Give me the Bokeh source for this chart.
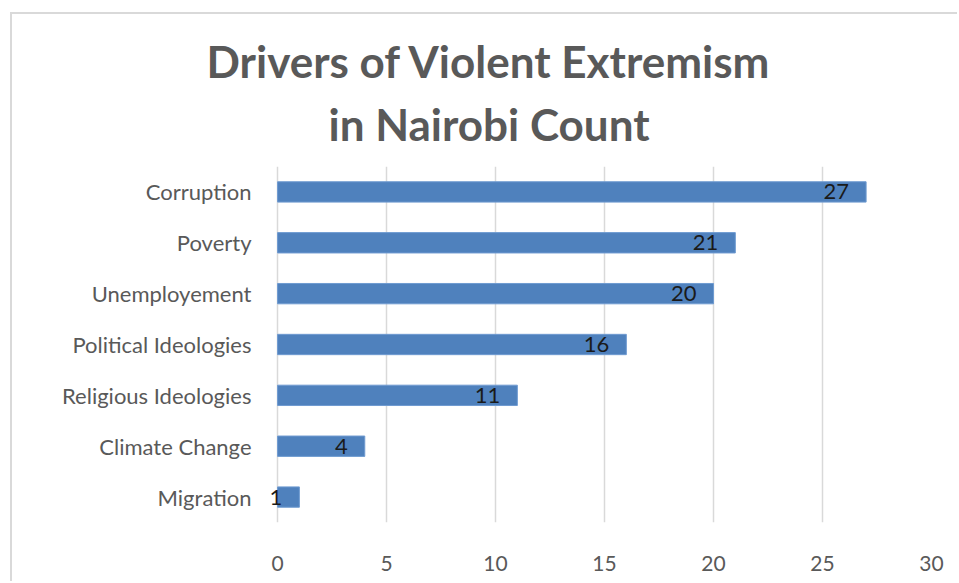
from bokeh.plotting import figure
from bokeh.models import FactorRange, Title, ColumnDataSource, FixedTicker
from bokeh.core.properties import value
from bokeh.embed import file_html
from bokeh.resources import INLINE

categories = ["Corruption", "Poverty", "Unemployement", "Political Ideologies",
              "Religious Ideologies", "Climate Change", "Migration"]
counts = [27, 21, 20, 16, 11, 4, 1]
x_ticks = [0, 5, 10, 15, 20, 25, 30]
title_lines = ["Drivers of Violent Extremism", "in Nairobi Count"]

FONT = "Lato"
GRAY = "#595959"

src = ColumnDataSource(dict(cat=categories, val=counts, lab=[str(c) for c in counts]))

p = figure(
    width=947, height=569,
    y_range=FactorRange(factors=list(reversed(categories)), range_padding=0),
    x_range=(-0.6, 30),
    output_backend="svg", toolbar_location=None,
    min_border_left=252, min_border_right=28, min_border_top=152, min_border_bottom=61,
    margin=(12, 0, 0, 10),
)
p.styles = {"border-top": "2px solid #d9d9d9", "border-left": "2px solid #d9d9d9"}
p.outline_line_color = None
p.background_fill_color = "white"
p.border_fill_color = "white"

p.hbar(y="cat", right="val", left=0, height=0.4, source=src,
       fill_color="#4f81bd", line_color="#6f9bd1", line_width=1)

p.text(x="val", y="cat", text="lab", source=src, x_offset=-17,
       text_align="right", text_baseline="middle",
       text_font=value(FONT), text_font_size="22px", text_color="#1a1a1a")

p.xgrid.grid_line_color = "#d9d9d9"
p.xgrid.grid_line_width = 1.5
p.ygrid.grid_line_color = None
p.xaxis.ticker = FixedTicker(ticks=x_ticks)

for ax in (p.xaxis[0], p.yaxis[0]):
    ax.axis_line_color = None
    ax.major_tick_line_color = None
    ax.minor_tick_line_color = None
    ax.major_label_text_font = FONT
    ax.major_label_text_color = GRAY
p.xaxis.major_label_text_font_size = "21px"
p.yaxis.major_label_text_font_size = "22px"
p.yaxis.major_label_standoff = 7
p.xaxis.major_label_standoff = 27

# second line first (closest to the plot), then first line above it
for t, off, so in [(title_lines[1], 64, 33), (title_lines[0], -58, -15)]:
    p.add_layout(Title(text=t, align="left", offset=off, standoff=so,
                       vertical_align="bottom",
                       text_font=FONT, text_font_style="bold",
                       text_font_size="44px", text_color=GRAY), "above")

open("out.html", "w").write(file_html(p, INLINE))
